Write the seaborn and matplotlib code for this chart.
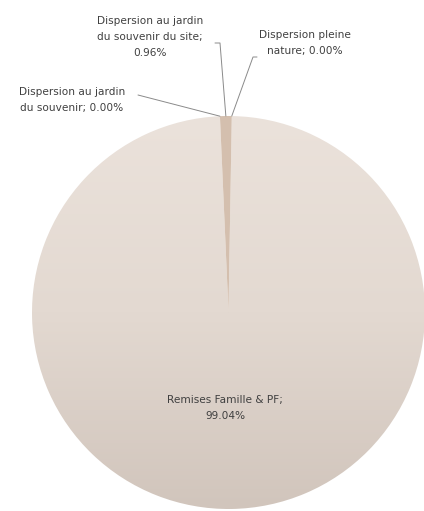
import numpy as np
import matplotlib.pyplot as plt
import seaborn as sns
from matplotlib.colors import LinearSegmentedColormap

sns.set_theme(style="white")
plt.rcParams['font.family'] = ['DejaVu Sans']

# data
categories = ['Dispersion au jardin\ndu souvenir',
              'Dispersion au jardin\ndu souvenir du site',
              'Dispersion pleine\nnature',
              'Remises Famille & PF']
shares = [0.00, 0.96, 0.00, 99.04]
label_texts = ['Dispersion au jardin\ndu souvenir; 0.00%',
               'Dispersion au jardin\ndu souvenir du site;\n0.96%',
               'Dispersion pleine\nnature; 0.00%',
               'Remises Famille & PF;\n99.04%']

W, H = 424, 511
fig = plt.figure(figsize=(W / 100, H / 100), dpi=100)
ax = fig.add_axes([0, 0, 1, 1])

cx, cy, r = 228.5, H - 312.5, 196.5
slice_colors = ['#d4bfae', '#d4bfae', '#d4bfae', '#e4dad2']
wedges, _ = ax.pie(shares, colors=slice_colors, startangle=92.5, counterclock=False,
                   center=(cx, cy), radius=r, wedgeprops=dict(linewidth=0))

# vertical gradient on the big slice
big = wedges[3]
big.set_facecolor('none')
cmap = LinearSegmentedColormap.from_list('bg', ['#ebe2db', '#e3d9d1', '#d1c5bc'])
grad = np.linspace(0, 1, 256).reshape(-1, 1)
im = ax.imshow(grad, cmap=cmap, extent=(cx - r, cx + r, cy - r, cy + r),
               origin='upper', aspect='auto', zorder=0.5)
im.set_clip_path(big)

ax.set_xlim(0, W)
ax.set_ylim(0, H)
ax.set_aspect('auto')
ax.axis('off')

txt_kw = dict(fontsize=7.6, color='#404040', ha='center', va='center', linespacing=1.75)
line_kw = dict(color='#8a8a8a', lw=0.7)


def edge_point(theta):
    t = np.deg2rad(theta)
    return cx + r * np.cos(t), cy + r * np.sin(t)


# outside labels with leader lines
ang0 = wedges[0].theta1
ang1 = (wedges[1].theta1 + wedges[1].theta2) / 2
ang2 = wedges[2].theta1

ax.text(72, H - 100, label_texts[0], **txt_kw)
px, py = edge_point(ang0)
ax.plot([138, px], [H - 95, py], **line_kw)

ax.text(150, H - 37, label_texts[1], **txt_kw)
px, py = edge_point(ang1)
ax.plot([215, 220, px], [H - 43, H - 43, py], **line_kw)

ax.text(305, H - 43, label_texts[2], **txt_kw)
px, py = edge_point(ang2)
ax.plot([257, 253, px], [H - 57, H - 57, py], **line_kw)

ax.text(225, H - 408, label_texts[3], **txt_kw)

fig.savefig('out.png', dpi=100)
